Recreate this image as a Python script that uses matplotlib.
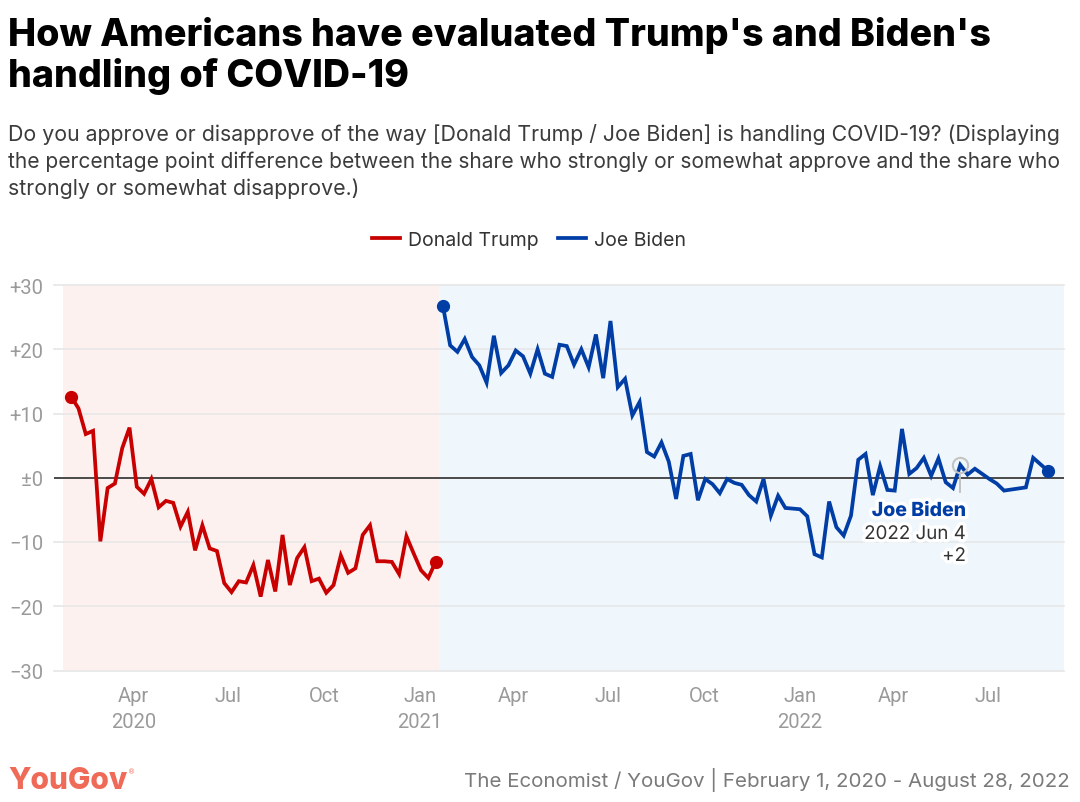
import matplotlib
matplotlib.use('Agg')
import matplotlib.pyplot as plt
import matplotlib.patheffects as pe
from matplotlib.lines import Line2D
import pandas as pd
from datetime import datetime

# ---------------- data ----------------
trump_start = '2020-02-01'
trump_values = [12.6, 10.8, 6.8, 7.3, -9.9, -1.6, -0.9, 4.6, 7.8, -1.4,
                -2.5, -0.2, -4.6, -3.6, -3.9, -7.6, -5.3, -11.3, -7.4, -11.0,
                -11.4, -16.4, -17.8, -16.1, -16.3, -13.6, -18.5, -12.8, -17.7, -8.9,
                -16.7, -12.5, -10.8, -16.1, -15.7, -17.9, -16.7, -12.1, -14.8, -14.1,
                -8.9, -7.4, -13.0, -13.0, -13.1, -15.0, -9.1, -11.8, -14.4, -15.6,
                -13.1]

biden_start = '2021-01-23'
biden_weeks = list(range(0, 78)) + [80, 81, 83]
biden_values = [26.8, 20.6, 19.6, 21.6, 18.8, 17.5, 14.8, 22.1, 16.3, 17.5,
                19.8, 18.9, 16.2, 20.0, 16.2, 15.7, 20.7, 20.5, 17.6, 20.0,
                17.2, 22.3, 15.5, 24.4, 14.1, 15.4, 9.7, 11.8, 4.0, 3.3,
                5.5, 2.5, -3.3, 3.4, 3.7, -3.5, -0.2, -1.0, -2.4, -0.2,
                -0.8, -1.1, -2.7, -3.7, -0.2, -5.9, -2.8, -4.7, -4.8, -4.9,
                -6.0, -11.9, -12.4, -3.7, -7.7, -9.0, -5.9, 2.8, 3.7, -2.7,
                1.8, -1.9, -2.0, 7.6, 0.6, 1.5, 3.1, 0.3, 3.0, -0.7,
                -1.6, 2.0, 0.5, 1.4, 0.6, -0.2, -0.9, -2.0, -1.5, 3.1,
                1.1]

y_ticks = [30, 20, 10, 0, -10, -20, -30]
y_tick_labels = ['+30', '+20', '+10', '±0', '\u221210', '\u221220', '\u221230']
x_tick_dates = ['2020-04-01', '2020-07-01', '2020-10-01', '2021-01-01', '2021-04-01',
                '2021-07-01', '2021-10-01', '2022-01-01', '2022-04-01', '2022-07-01']
x_tick_labels = ['Apr\n2020', 'Jul', 'Oct', 'Jan\n2021', 'Apr', 'Jul', 'Oct',
                 'Jan\n2022', 'Apr', 'Jul']

tooltip_date = '2022-06-04'
tooltip_value = 2.0

title_lines = ["How Americans have evaluated Trump's and Biden's",
               "handling of COVID-19"]
subtitle_lines = ["Do you approve or disapprove of the way [Donald Trump / Joe Biden] is handling COVID-19? (Displaying",
                  "the percentage point difference between the share who strongly or somewhat approve and the share who",
                  "strongly or somewhat disapprove.)"]
source_text = "The Economist / YouGov | February 1, 2020 - August 28, 2022"

trump_dates = pd.date_range(trump_start, periods=len(trump_values), freq='7D')
biden_dates = pd.Timestamp(biden_start) + pd.to_timedelta([7 * w for w in biden_weeks], unit='D')

# ---------------- style ----------------
RED = '#c80000'
BLUE = '#003da5'
TRUMP_BG = '#fdf1f0'
BIDEN_BG = '#eff7fd'
GRID = '#e8e8e8'
TICK = '#9a9a9a'

W, H = 1080, 803
fig = plt.figure(figsize=(W / 100, H / 100), dpi=100)
fig.patch.set_facecolor('white')

def fx(px):
    return px / W

def fy(py):
    return 1 - py / H

ax_left, ax_right, ax_top, ax_bot = 53.5, 1064.4, 286.0, 671.5
ax = fig.add_axes([fx(ax_left), fy(ax_bot), (ax_right - ax_left) / W, (ax_bot - ax_top) / H])
ax.set_xlim(datetime(2020, 1, 15), datetime(2022, 9, 12))
ax.set_ylim(-30, 30)
for s in ax.spines.values():
    s.set_visible(False)

# shaded periods
ax.axvspan(datetime(2020, 1, 24), datetime(2021, 1, 19), color=TRUMP_BG, zorder=0, lw=0)
ax.axvspan(datetime(2021, 1, 19), datetime(2022, 9, 12), color=BIDEN_BG, zorder=0, lw=0)

for yv in y_ticks:
    if yv == 0:
        ax.axhline(0, color='#4a4a4a', lw=1.4, zorder=1)
    else:
        ax.axhline(yv, color=GRID, lw=1.3, zorder=0.5, clip_on=False)

ax.plot(trump_dates, trump_values, color=RED, lw=2.7, zorder=3, solid_joinstyle='miter',
        label='Donald Trump')
ax.plot(biden_dates, biden_values, color=BLUE, lw=2.7, zorder=3, solid_joinstyle='miter',
        label='Joe Biden')
ax.plot([trump_dates[0], trump_dates[-1]], [trump_values[0], trump_values[-1]], 'o',
        color=RED, ms=8.5, zorder=4)
ax.plot([biden_dates[0], biden_dates[-1]], [biden_values[0], biden_values[-1]], 'o',
        color=BLUE, ms=8.5, zorder=4)

# tooltip marker
td = pd.Timestamp(tooltip_date)
ax.plot([td, td], [tooltip_value - 1.2, -2.2], color='#bdbdbd', lw=1.3, zorder=2)
ax.plot([td], [tooltip_value], 'o', mfc='none', mec='#c4c4c4', mew=1.5, ms=11, zorder=5)

ax.set_yticks(y_ticks)
ax.set_yticklabels(y_tick_labels)
ax.set_xticks([pd.Timestamp(d) for d in x_tick_dates])
ax.set_xticklabels(x_tick_labels)
ax.tick_params(axis='both', length=0, colors=TICK, labelsize=14.5)
ax.tick_params(axis='y', pad=7.5)
ax.tick_params(axis='x', pad=11)
for lab in ax.get_yticklabels() + ax.get_xticklabels():
    lab.set_fontfamily('Roboto')
    lab.set_color(TICK)
for lab in ax.get_xticklabels():
    lab.set_linespacing(1.5)

# tooltip text
halo = [pe.withStroke(linewidth=5, foreground='white')]
fig.text(fx(966), fy(517), 'Joe Biden', ha='right', va='baseline', color=BLUE,
         fontsize=14, fontweight='heavy', family='Inter', path_effects=halo)
fig.text(fx(966), fy(540), '2022 Jun 4', ha='right', va='baseline', color='#333333',
         fontsize=13.5, family='Inter', path_effects=halo)
fig.text(fx(966), fy(562), '+2', ha='right', va='baseline', color='#333333',
         fontsize=13.5, family='Inter', path_effects=halo)

# legend
handles = [Line2D([], [], color=RED, lw=2.7), Line2D([], [], color=BLUE, lw=2.7)]
leg = fig.legend(handles, ['Donald Trump', 'Joe Biden'], loc='center',
                 bbox_to_anchor=(fx(529), fy(241)), ncol=2, frameon=False,
                 prop={'family': 'Inter', 'size': 14}, handlelength=1.45,
                 handletextpad=0.4, columnspacing=1.0)
for t in leg.get_texts():
    t.set_color('#333333')

# titles
t1 = fig.text(fx(8), fy(46), title_lines[0], ha='left', va='baseline', color='black',
              fontsize=28, fontweight='heavy', family='Inter')
t2 = fig.text(fx(8), fy(87), title_lines[1], ha='left', va='baseline', color='black',
              fontsize=28, fontweight='heavy', family='Inter')
subs = []
for i, line in enumerate(subtitle_lines):
    subs.append(fig.text(fx(8), fy(141 + 27 * i), line, ha='left', va='baseline',
                         color='#3c3c3c', fontsize=14, family='Inter'))

logo = fig.text(fx(8), fy(789), 'YouGov', ha='left', va='baseline', color='#f06a58',
                fontsize=22, fontweight='heavy', family='Inter')
src = fig.text(fx(1070), fy(787), source_text, ha='right', va='baseline', color='#7a7a7a',
               fontsize=13.5, family='Inter')

fig.canvas.draw()
r = fig.canvas.get_renderer()

def fit(t, target):
    w = t.get_window_extent(r).width
    t.set_fontsize(t.get_fontsize() * target / w)
    return t.get_fontsize()

s = fit(t1, 982)
t2.set_fontsize(s)
s = fit(subs[0], 1054)
fit(subs[1], 1054)
subs[2].set_fontsize(s)
fit(logo, 120)
fit(src, 607)
fig.canvas.draw()
lw_ = logo.get_window_extent(r)
fig.text(lw_.x1 / W + 0.001, (lw_.y1 - 2) / H, '®', ha='left', va='top', color='#f06a58',
         fontsize=5, family='DejaVu Sans')

fig.savefig('out.png', dpi=100, facecolor='white')
